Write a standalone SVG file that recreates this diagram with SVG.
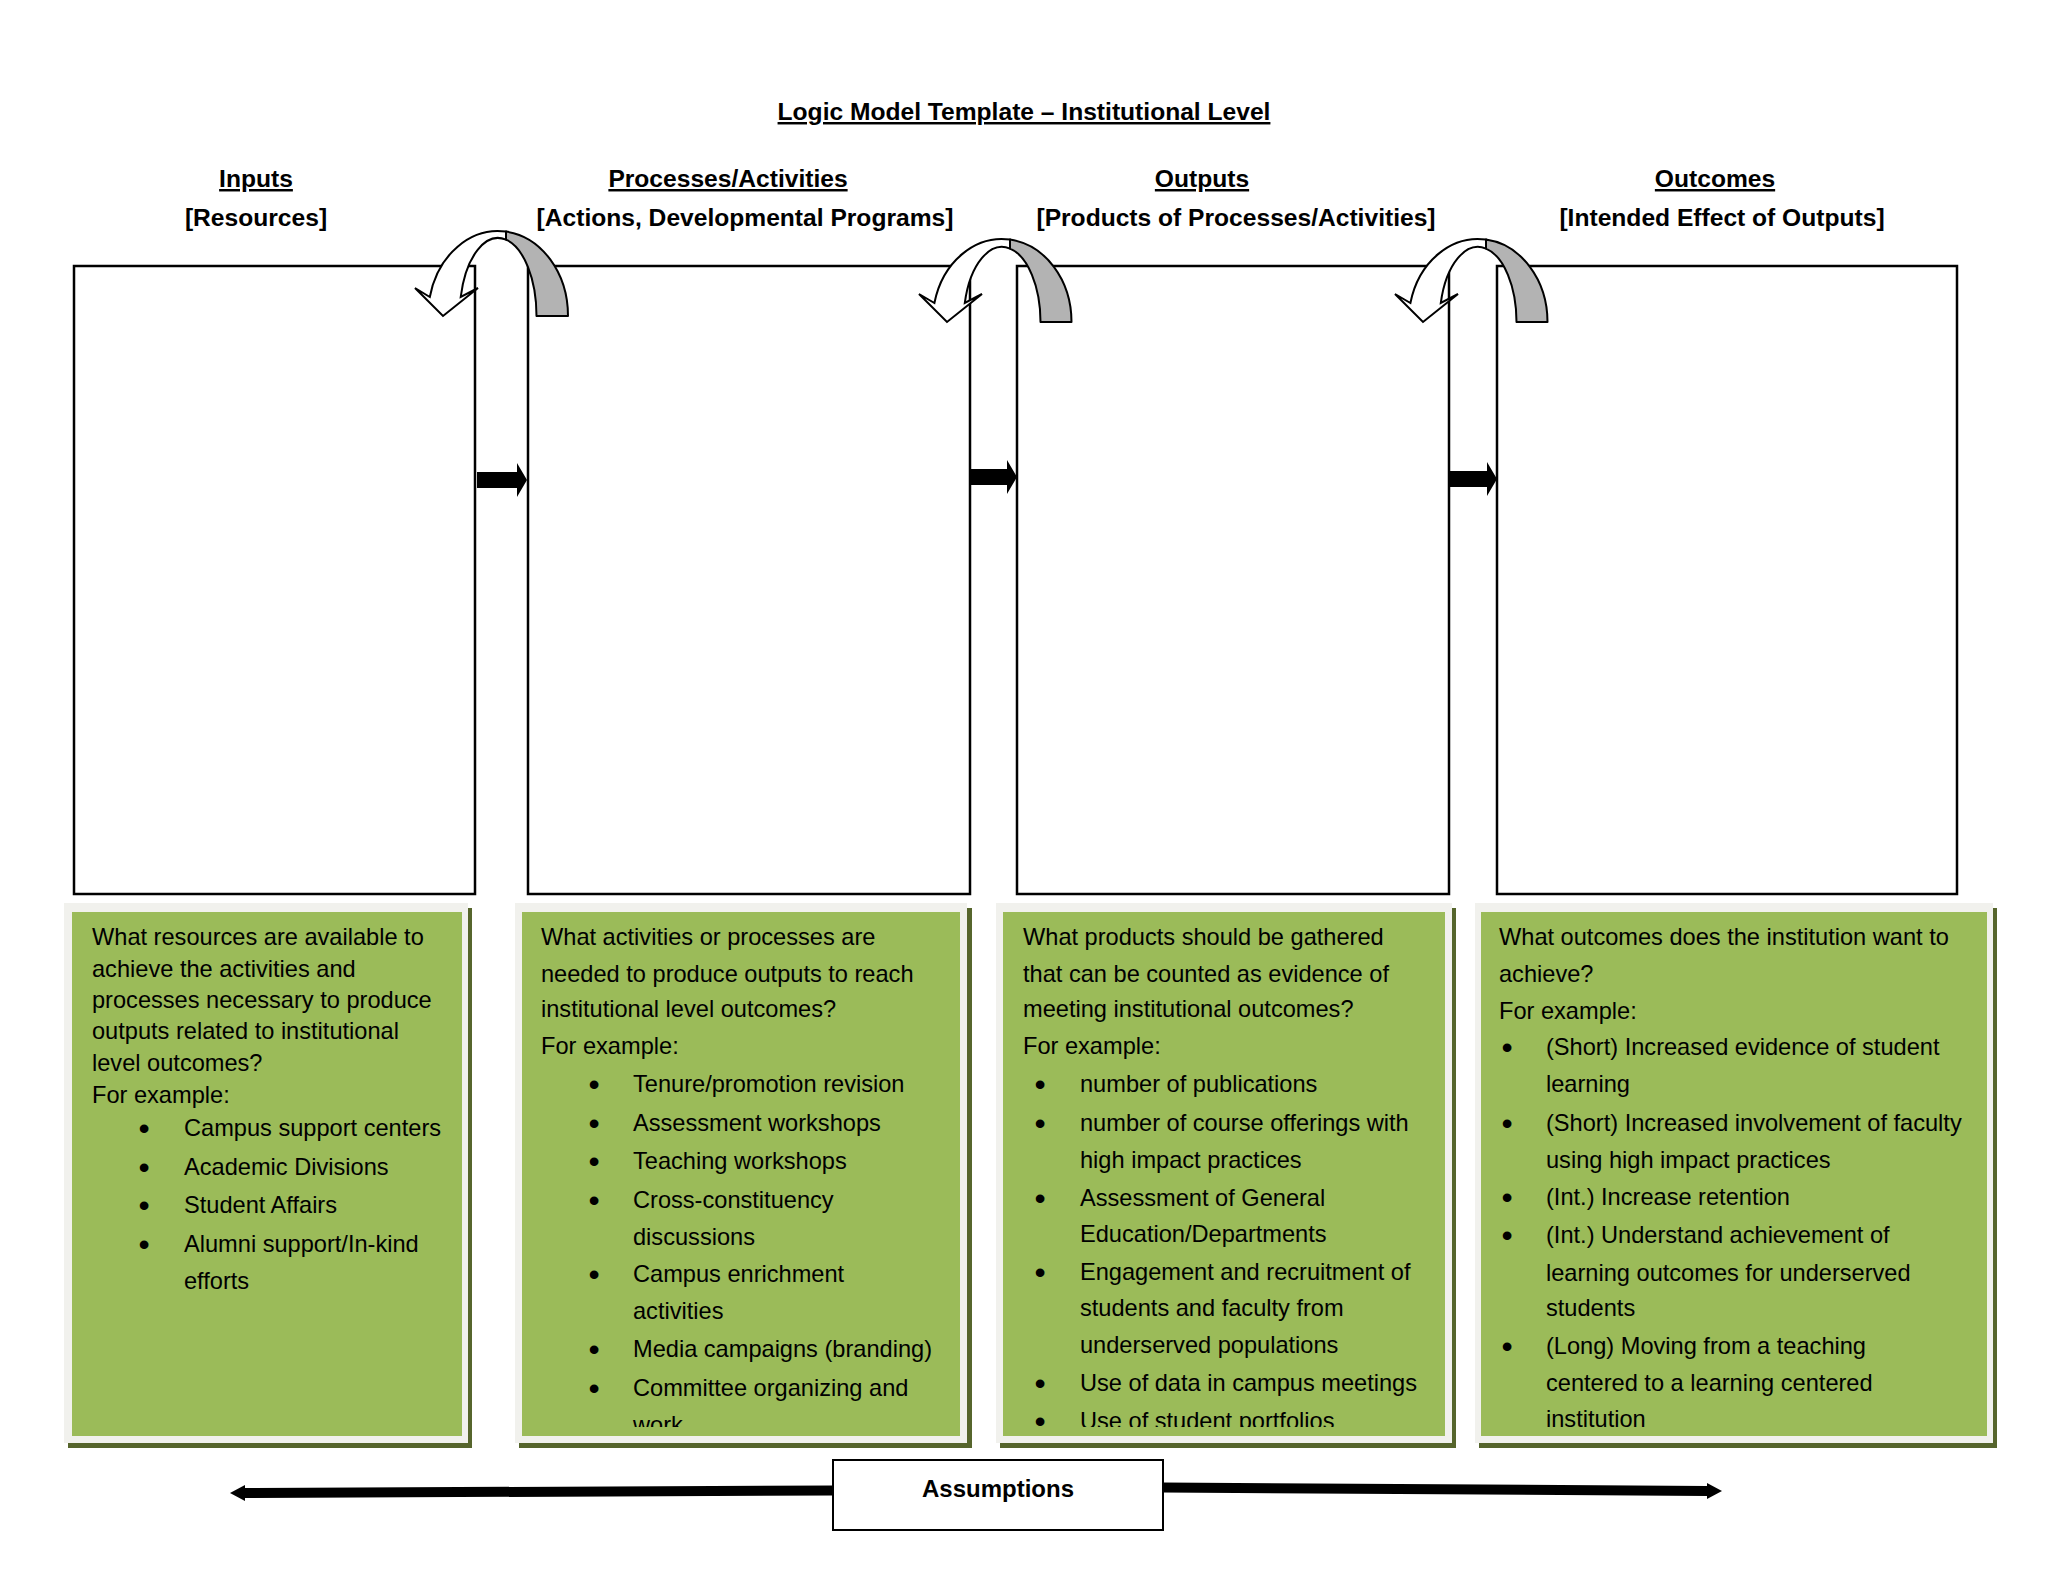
<svg xmlns="http://www.w3.org/2000/svg" width="2048" height="1582" viewBox="0 0 2048 1582">
<style>
  text { font-family: "Liberation Sans", Arial, sans-serif; fill: #000; }
  .title { font-size: 24.6px; font-weight: bold; text-anchor: middle; text-decoration: underline; }
  .head { font-size: 24.6px; font-weight: bold; text-anchor: middle; text-decoration: underline; }
  .sub { font-size: 24.6px; font-weight: bold; text-anchor: middle; }
  .body { font-size: 23.6px; }
  .bul { font-size: 32px; text-anchor: middle; }
  .box { fill: #fff; stroke: #000; stroke-width: 2.5; }
  .shadow { fill: #56652c; }
  .frame { fill: #f1f1ed; }
  .green { fill: #9bbb59; }
  .grayband { fill: #b3b3b3; stroke: #000; stroke-width: 2; stroke-linejoin: round; }
  .whiteband { fill: #fff; stroke: #000; stroke-width: 2; stroke-linejoin: miter; }
  .blk { fill: #000; }
  .abox { fill: #fff; stroke: #000; stroke-width: 2; }
</style>
<defs>
  <clipPath id="panelclip"><rect x="0" y="0" width="2048" height="1427"/></clipPath>
</defs>
<rect x="0" y="0" width="2048" height="1582" fill="#fff"/>

<g id="titles">
  <text class="title" x="1024" y="120">Logic Model Template – Institutional Level</text>
  <text class="head" x="256" y="187">Inputs</text>
  <text class="sub" x="256" y="226">[Resources]</text>
  <text class="head" x="728" y="187">Processes/Activities</text>
  <text class="sub" x="745" y="226">[Actions, Developmental Programs]</text>
  <text class="head" x="1202" y="187">Outputs</text>
  <text class="sub" x="1236" y="226">[Products of Processes/Activities]</text>
  <text class="head" x="1715" y="187">Outcomes</text>
  <text class="sub" x="1722" y="226">[Intended Effect of Outputs]</text>
</g>

<g id="node-inputs-box"><rect class="box" x="74" y="266" width="401" height="628"/></g>
<g id="node-processes-box"><rect class="box" x="528" y="266" width="442" height="628"/></g>
<g id="node-outputs-box"><rect class="box" x="1017" y="266" width="432" height="628"/></g>
<g id="node-outcomes-box"><rect class="box" x="1497" y="266" width="460" height="628"/></g>

<g id="connectors">
  <polygon class="blk" points="477,472 517,472 517,463 527,480 517,497 517,488 477,488"/>
  <polygon class="blk" points="971,469 1007,469 1007,460 1017,477 1007,494 1007,485 971,485"/>
  <polygon class="blk" points="1450,471 1487,471 1487,462 1497,479 1487,496 1487,487 1450,487"/>
  <path class="grayband" d="M506,231.6 A70,85 0 0 1 568,316 L536.5,316 A38.5,78 0 0 0 506,239.7 Z"/>
  <path class="whiteband" d="M506,231.6 A70,85 0 0 0 429.8,297 L415,288 L443,316 L478,288 L460.7,297 A38.5,78 0 0 1 506,239.7 Z"/>
  <path class="grayband" d="M1010,239.6 A69.5,83 0 0 1 1071.5,322 L1040.5,322 A38.5,75 0 0 0 1010,248.6 Z"/>
  <path class="whiteband" d="M1010,239.6 A69.5,83 0 0 0 934.4,303 L919,294 L947,322 L982,294 L964.8,303 A38.5,75 0 0 1 1010,248.6 Z"/>
  <path class="grayband" d="M1486,239.6 A69.5,83 0 0 1 1547.5,322 L1516.5,322 A38.5,75 0 0 0 1486,248.6 Z"/>
  <path class="whiteband" d="M1486,239.6 A69.5,83 0 0 0 1410.4,303 L1395,294 L1423,322 L1458,294 L1440.8,303 A38.5,75 0 0 1 1486,248.6 Z"/>
  <polygon class="blk" points="833,1485.5 833,1495.5 245,1498 245,1501 230,1493 245,1485 245,1488"/>
  <polygon class="blk" points="1163,1482.5 1707,1486 1707,1483 1722,1491 1707,1499 1707,1496 1163,1492.5"/>
</g>

<g id="node-inputs-panel">
  <rect class="shadow" x="68" y="908" width="404" height="540"/>
  <rect class="frame" x="64" y="903" width="404" height="540"/>
  <rect class="green" x="72" y="912" width="390" height="524"/>
  <text class="body" x="92" y="945">What resources are available to</text>
  <text class="body" x="92" y="977">achieve the activities and</text>
  <text class="body" x="92" y="1008">processes necessary to produce</text>
  <text class="body" x="92" y="1039">outputs related to institutional</text>
  <text class="body" x="92" y="1071">level outcomes?</text>
  <text class="body" x="92" y="1103">For example:</text>
  <text class="bul" x="144" y="1139">•</text><text class="body" x="184" y="1136">Campus support centers</text>
  <text class="bul" x="144" y="1178">•</text><text class="body" x="184" y="1175">Academic Divisions</text>
  <text class="bul" x="144" y="1216">•</text><text class="body" x="184" y="1213">Student Affairs</text>
  <text class="bul" x="144" y="1255">•</text><text class="body" x="184" y="1252">Alumni support/In-kind</text>
  <text class="body" x="184" y="1289">efforts</text>
</g>

<g id="node-processes-panel">
  <rect class="shadow" x="519" y="908" width="453" height="540"/>
  <rect class="frame" x="515" y="903" width="452" height="540"/>
  <rect class="green" x="522" y="912" width="438" height="524"/>
  <g clip-path="url(#panelclip)">
  <text class="body" x="541" y="945">What activities or processes are</text>
  <text class="body" x="541" y="982">needed to produce outputs to reach</text>
  <text class="body" x="541" y="1017">institutional level outcomes?</text>
  <text class="body" x="541" y="1054">For example:</text>
  <text class="bul" x="594" y="1095">•</text><text class="body" x="633" y="1092">Tenure/promotion revision</text>
  <text class="bul" x="594" y="1134">•</text><text class="body" x="633" y="1131">Assessment workshops</text>
  <text class="bul" x="594" y="1172">•</text><text class="body" x="633" y="1169">Teaching workshops</text>
  <text class="bul" x="594" y="1211">•</text><text class="body" x="633" y="1208">Cross-constituency</text>
  <text class="body" x="633" y="1245">discussions</text>
  <text class="bul" x="594" y="1285">•</text><text class="body" x="633" y="1282">Campus enrichment</text>
  <text class="body" x="633" y="1319">activities</text>
  <text class="bul" x="594" y="1360">•</text><text class="body" x="633" y="1357">Media campaigns (branding)</text>
  <text class="bul" x="594" y="1399">•</text><text class="body" x="633" y="1396">Committee organizing and</text>
  <text class="body" x="633" y="1433">work</text>
  </g>
</g>

<g id="node-outputs-panel">
  <rect class="shadow" x="1000" y="908" width="456" height="540"/>
  <rect class="frame" x="996" y="903" width="456" height="540"/>
  <rect class="green" x="1003" y="912" width="442" height="524"/>
  <g clip-path="url(#panelclip)">
  <text class="body" x="1023" y="945">What products should be gathered</text>
  <text class="body" x="1023" y="982">that can be counted as evidence of</text>
  <text class="body" x="1023" y="1017">meeting institutional outcomes?</text>
  <text class="body" x="1023" y="1054">For example:</text>
  <text class="bul" x="1040" y="1095">•</text><text class="body" x="1080" y="1092">number of publications</text>
  <text class="bul" x="1040" y="1134">•</text><text class="body" x="1080" y="1131">number of course offerings with</text>
  <text class="body" x="1080" y="1168">high impact practices</text>
  <text class="bul" x="1040" y="1209">•</text><text class="body" x="1080" y="1206">Assessment of General</text>
  <text class="body" x="1080" y="1242">Education/Departments</text>
  <text class="bul" x="1040" y="1283">•</text><text class="body" x="1080" y="1280">Engagement and recruitment of</text>
  <text class="body" x="1080" y="1316">students and faculty from</text>
  <text class="body" x="1080" y="1353">underserved populations</text>
  <text class="bul" x="1040" y="1394">•</text><text class="body" x="1080" y="1391">Use of data in campus meetings</text>
  <text class="bul" x="1040" y="1432">•</text><text class="body" x="1080" y="1429">Use of student portfolios</text>
  </g>
</g>

<g id="node-outcomes-panel">
  <rect class="shadow" x="1479" y="908" width="518" height="540"/>
  <rect class="frame" x="1475" y="903" width="518" height="540"/>
  <rect class="green" x="1481" y="912" width="506" height="524"/>
  <text class="body" x="1499" y="945">What outcomes does the institution want to</text>
  <text class="body" x="1499" y="982">achieve?</text>
  <text class="body" x="1499" y="1019">For example:</text>
  <text class="bul" x="1507" y="1058">•</text><text class="body" x="1546" y="1055">(Short) Increased evidence of student</text>
  <text class="body" x="1546" y="1092">learning</text>
  <text class="bul" x="1507" y="1134">•</text><text class="body" x="1546" y="1131">(Short) Increased involvement of faculty</text>
  <text class="body" x="1546" y="1168">using high impact practices</text>
  <text class="bul" x="1507" y="1208">•</text><text class="body" x="1546" y="1205">(Int.) Increase retention</text>
  <text class="bul" x="1507" y="1246">•</text><text class="body" x="1546" y="1243">(Int.) Understand achievement of</text>
  <text class="body" x="1546" y="1281">learning outcomes for underserved</text>
  <text class="body" x="1546" y="1316">students</text>
  <text class="bul" x="1507" y="1357">•</text><text class="body" x="1546" y="1354">(Long) Moving from a teaching</text>
  <text class="body" x="1546" y="1391">centered to a learning centered</text>
  <text class="body" x="1546" y="1427">institution</text>
</g>

<g id="node-assumptions">
  <rect class="abox" x="833" y="1460" width="330" height="70"/>
  <text class="sub" x="998" y="1497" style="font-size:24px">Assumptions</text>
</g>
</svg>
